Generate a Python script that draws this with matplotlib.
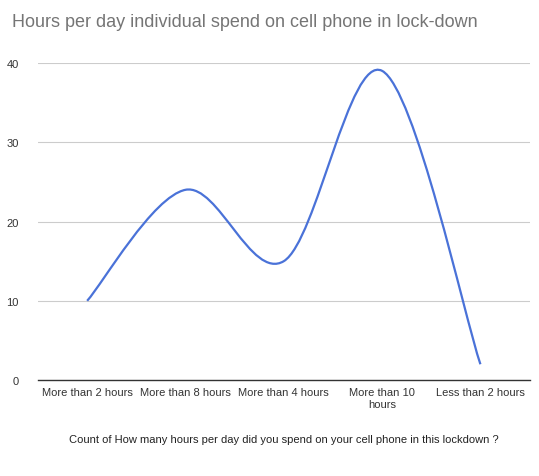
import numpy as np
import matplotlib.pyplot as plt
from matplotlib.path import Path
from matplotlib.patches import PathPatch

categories = ["More than 2 hours", "More than 8 hours", "More than 4 hours",
              "More than 10\nhours", "Less than 2 hours"]
counts = [10, 24, 15, 39, 2]

plt.rcParams['font.family'] = ['Liberation Sans Narrow', 'Liberation Sans', 'DejaVu Sans']

fig = plt.figure(figsize=(5.39, 4.77), dpi=100)
ax = fig.add_axes([0.0705, 0.201, 0.912, 0.665])

# smooth curve (catmull-rom style bezier, like sheets "smooth")
x = np.arange(len(counts), dtype=float)
y = np.array(counts, dtype=float)
t = 1 / 6
verts = [(x[0], y[0])]
codes = [Path.MOVETO]
for i in range(len(x) - 1):
    x0, y0 = (x[i - 1], y[i - 1]) if i > 0 else (x[i], y[i])
    x3, y3 = (x[i + 2], y[i + 2]) if i + 2 < len(x) else (x[i + 1], y[i + 1])
    c1 = (x[i] + (x[i + 1] - x0) * t, y[i] + (y[i + 1] - y0) * t)
    c2 = (x[i + 1] - (x3 - x[i]) * t, y[i + 1] - (y3 - y[i]) * t)
    verts += [c1, c2, (x[i + 1], y[i + 1])]
    codes += [Path.CURVE4] * 3
ax.add_patch(PathPatch(Path(verts, codes), facecolor='none', edgecolor='#4a72d8', lw=1.6))

ax.set_xlim(-0.5, len(categories) - 0.5)
ax.set_ylim(0, 40)
ax.set_yticks([0, 10, 20, 30, 40])
ax.set_xticks(x)
ax.set_xticklabels(categories, fontsize=8, color='#333333')
ax.tick_params(axis='y', labelsize=8, labelcolor='#333333', length=0, pad=14)
ax.tick_params(axis='x', length=0, pad=5)
ax.grid(axis='y', color='#cccccc', lw=0.8)
ax.set_axisbelow(True)
for s in ['top', 'right', 'left']:
    ax.spines[s].set_visible(False)
ax.spines['bottom'].set_color('#333333')
ax.spines['bottom'].set_linewidth(1.0)

ax.set_xlabel("Count of How many hours per day did you spend on your cell phone in this lockdown ?",
              fontsize=8, color='#222222', labelpad=18)
fig.text(0.022, 0.953, "Hours per day individual spend on cell phone in lock-down",
         fontsize=13, color='#757575', ha='left', va='center')

fig.savefig("out.png", dpi=100)
